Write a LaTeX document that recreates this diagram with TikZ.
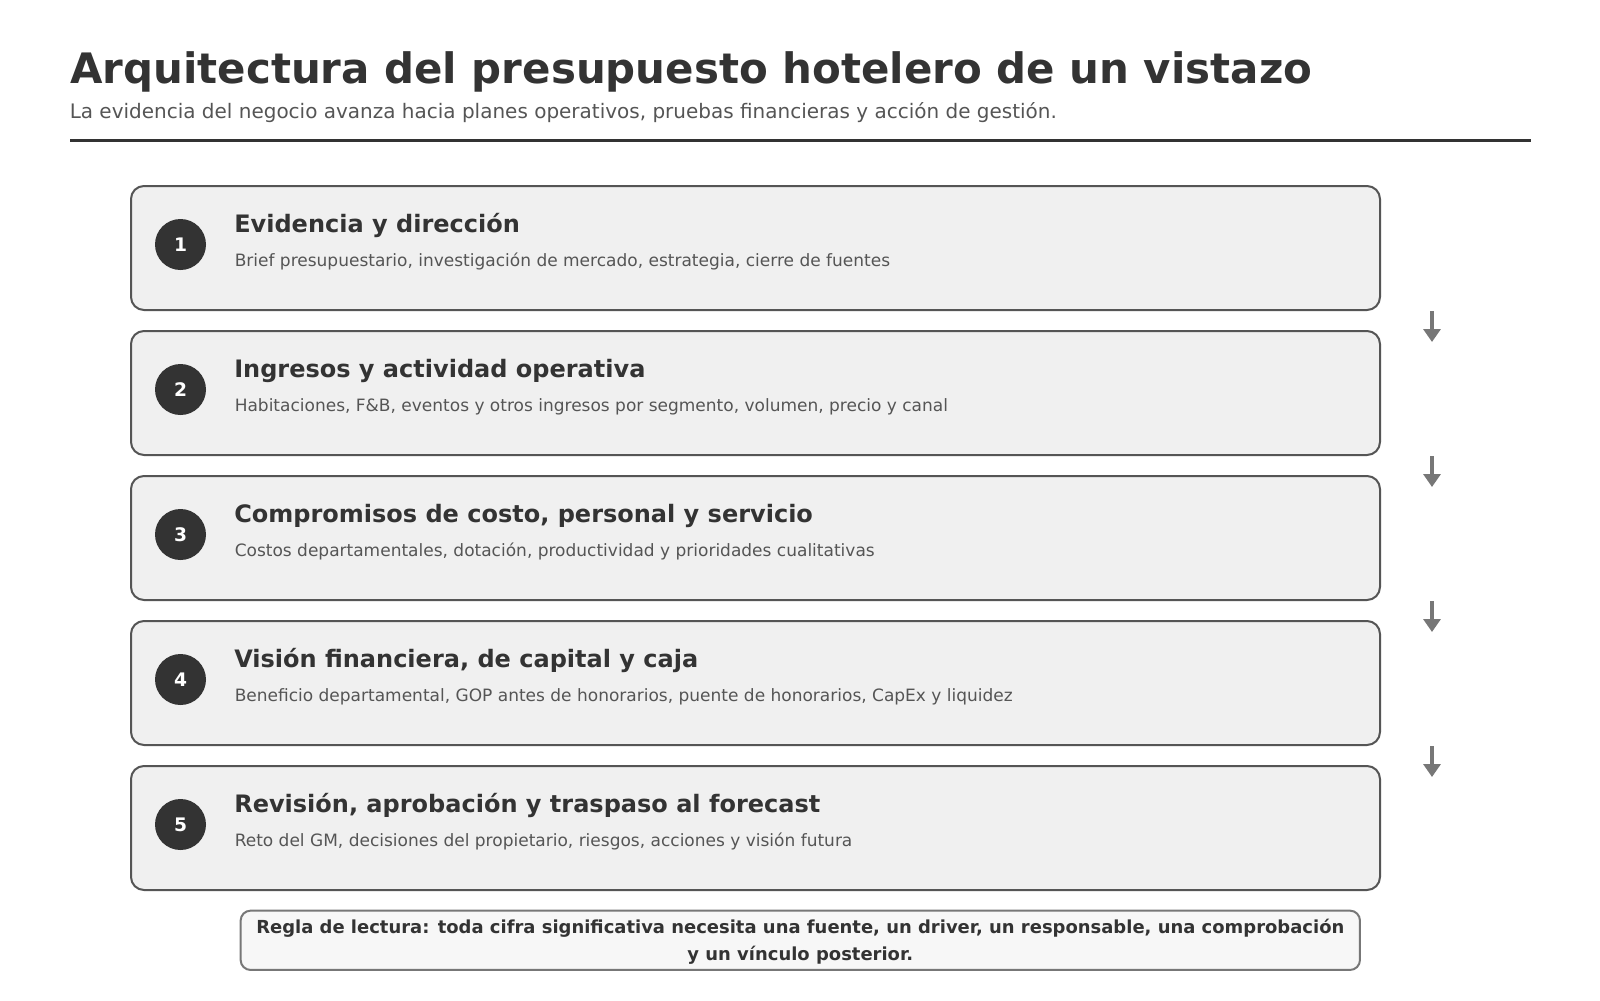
\documentclass[tikz,border=0pt]{standalone}
\usepackage{fontspec}
\setmainfont{DejaVu Sans}
\usetikzlibrary{arrows.meta,calc}
\definecolor{ink}{HTML}{333333}
\definecolor{mid}{HTML}{555555}
\definecolor{boxfill}{HTML}{F0F0F0}
\definecolor{boxline}{HTML}{555555}
\definecolor{arr}{HTML}{777777}
\definecolor{notefill}{HTML}{F7F7F7}
\definecolor{noteline}{HTML}{777777}
\newlength\calw
\newcommand\calib[4]{\settowidth\calw{\fontsize{10pt}{12pt}\selectfont#2#4}\pgfmathsetmacro#1{7.5*#3/\calw}}
\newcommand\tfont{\fontsize{\tsz pt}{\tsz pt}\bfseries\selectfont}
\newcommand\sfont{\fontsize{\ssz pt}{\ssz pt}\selectfont}
\newcommand\hfont{\fontsize{\hsz pt}{\hsz pt}\bfseries\selectfont}
\newcommand\dfont{\fontsize{\dsz pt}{\dsz pt}\selectfont}
\newcommand\nfont{\fontsize{\nsz pt}{\nsz pt}\bfseries\selectfont}
\AtBeginDocument{%
\calib{\tsz}{\bfseries}{1242}{Arquitectura del presupuesto hotelero de un vistazo}%
\calib{\ssz}{}{987}{La evidencia del negocio avanza hacia planes operativos, pruebas financieras y acción de gestión.}%
\calib{\hsz}{\bfseries}{464}{Visión financiera, de capital y caja}%
\calib{\dsz}{}{778}{Beneficio departamental, GOP antes de honorarios, puente de honorarios, CapEx y liquidez}%
\calib{\nsz}{\bfseries}{1088}{Regla de lectura: toda cifra significativa necesita una fuente, un driver, un responsable, una comprobación}%
}
\begin{document}
\begin{tikzpicture}[x=0.75pt,y=-0.75pt,
  box/.style={draw=boxline, line width=1.5pt, fill=boxfill, rounded corners=9.75pt, minimum width=936.75pt, minimum height=93pt, inner sep=0pt},
  badge/.style={circle, fill=ink, minimum size=38.25pt, inner sep=0pt, text=white, font=\fontsize{14pt}{14pt}\bfseries\selectfont},
  head/.style={anchor=base west, inner sep=0pt, text=ink, font=\hfont},
  desc/.style={anchor=base west, inner sep=0pt, text=mid, font=\dfont},
  flow/.style={draw=arr, line width=3pt, -{Triangle[width=12.75pt,length=9.75pt]}},
  note/.style={draw=noteline, line width=1.5pt, fill=notefill, rounded corners=7.5pt, minimum width=839.5pt, minimum height=44.5pt, inner sep=0pt},
  notetext/.style={anchor=base, inner sep=0pt, text=ink, font=\nfont}]
\useasboundingbox (0,0) rectangle (1600,1000);
\fill[white] (0,0) rectangle (1600,1000);
% header
\node[anchor=base west, inner sep=0pt, text=ink, font=\tfont] (title) at (70,83) {Arquitectura del presupuesto hotelero de un vistazo};
\node[anchor=base west, inner sep=0pt, text=mid, font=\sfont] (subtitle) at (69.5,118) {La evidencia del negocio avanza hacia planes operativos, pruebas financieras y acción de gestión.};
\coordinate (ruleL) at (70,140);
\coordinate (ruleR) at (1531,140);
\draw[ink, line width=2.25pt] (ruleL) -- (ruleR);
% boxes
\node[box] (b1) at (755.5,248) {};
\node[box] (b2) at (755.5,393) {};
\node[box] (b3) at (755.5,538) {};
\node[box] (b4) at (755.5,683) {};
\node[box] (b5) at (755.5,828) {};
% badges
\node[badge] (c1) at (180.5,244.5) {1};
\node[badge] (c2) at (180.5,389.5) {2};
\node[badge] (c3) at (180.5,534.5) {3};
\node[badge] (c4) at (180.5,679.5) {4};
\node[badge] (c5) at (180.5,824.5) {5};
% headings and descriptions
\node[head] (h1) at (234,232) {Evidencia y dirección};
\node[desc] (d1) at (234.5,266) {Brief presupuestario, investigación de mercado, estrategia, cierre de fuentes};
\node[head] (h2) at (234,377) {Ingresos y actividad operativa};
\node[desc] (d2) at (234.5,411) {Habitaciones, F\&B, eventos y otros ingresos por segmento, volumen, precio y canal};
\node[head] (h3) at (234,522) {Compromisos de costo, personal y servicio};
\node[desc] (d3) at (234.5,556) {Costos departamentales, dotación, productividad y prioridades cualitativas};
\node[head] (h4) at (234,667) {Visión financiera, de capital y caja};
\node[desc] (d4) at (234.5,701) {Beneficio departamental, GOP antes de honorarios, puente de honorarios, CapEx y liquidez};
\node[head] (h5) at (234,812) {Revisión, aprobación y traspaso al forecast};
\node[desc] (d5) at (234.5,846) {Reto del GM, decisiones del propietario, riesgos, acciones y visión futura};
% flow arrows
\foreach \a/\b in {b1/b2,b2/b3,b3/b4,b4/b5}{
  \coordinate (s-\a) at ($(\a.south east)+(51,0)$);
  \coordinate (e-\b) at ($(\b.north east)+(51,12)$);
  \draw[flow] (s-\a) -- (e-\b);
}
% note
\node[note] (note) at (800.3,940.3) {};
\node[notetext] (note1) at (800.3,933) {Regla de lectura: toda cifra significativa necesita una fuente, un driver, un responsable, una comprobación};
\node[notetext] (note2) at (800.3,960) {y un vínculo posterior.};
\end{tikzpicture}
\end{document}
